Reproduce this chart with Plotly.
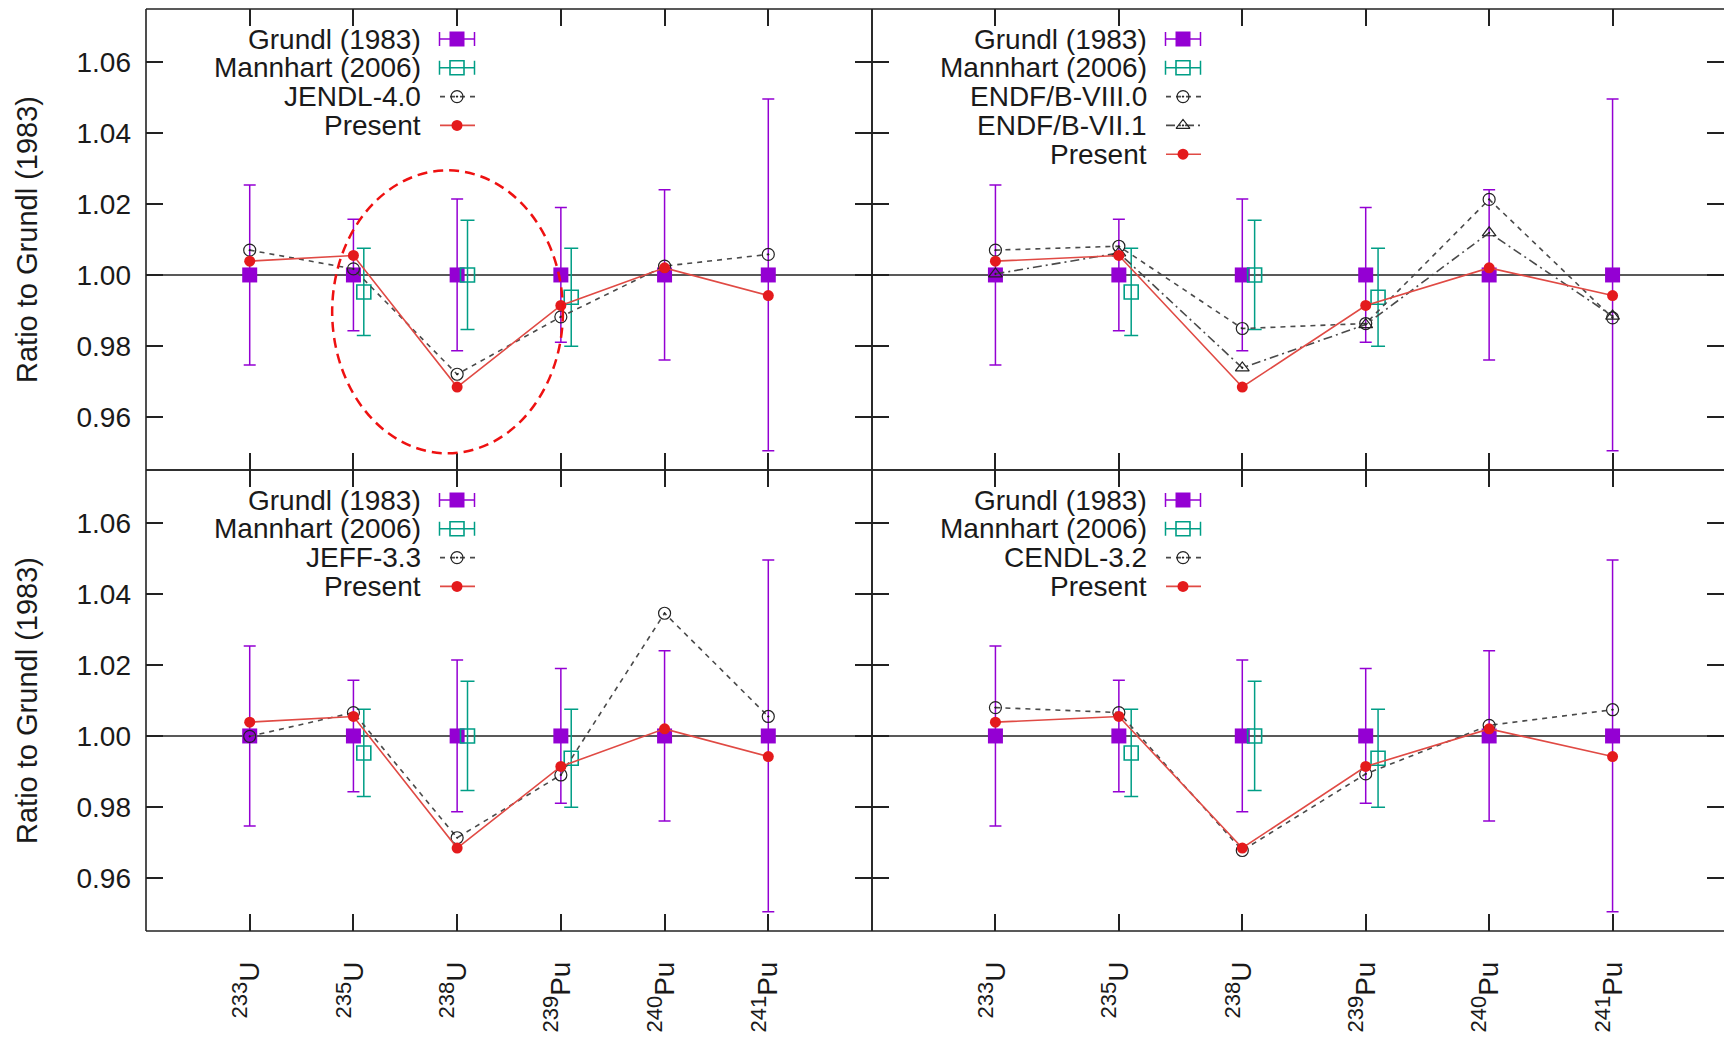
import plotly.graph_objects as go

# ---------------------------------------------------------------------------
# Data: ratios of spectrum-averaged cross sections to Grundl (1983)
# ---------------------------------------------------------------------------
nuclide_pos = [1, 2, 3, 4, 5, 6]
nuclide_mass = ["233", "235", "238", "239", "240", "241"]
nuclide_elem = ["U", "U", "U", "Pu", "Pu", "Pu"]

grundl_ratio = [1.000, 1.000, 1.000, 1.000, 1.000, 1.000]
grundl_err = [0.0254, 0.0157, 0.0214, 0.0190, 0.0240, 0.0496]

mannhart_pos = [2, 3, 4]
mannhart_ratio = [0.9952, 1.0000, 0.9937]
mannhart_err = [0.0123, 0.0154, 0.0138]

present_ratio = [1.0039, 1.0055, 0.9684, 0.9914, 1.0020, 0.9942]

jendl40_ratio = [1.0070, 1.0017, 0.9720, 0.9882, 1.0025, 1.0058]
endf80_ratio = [1.0070, 1.0081, 0.9849, 0.9863, 1.0213, 0.9879]
endf71_ratio = [1.0003, 1.0062, 0.9738, 0.9860, 1.0119, 0.9884]
jeff33_ratio = [0.9999, 1.0066, 0.9713, 0.9890, 1.0346, 1.0055]
cendl32_ratio = [1.0080, 1.0066, 0.9677, 0.9893, 1.0030, 1.0074]

y_tick_vals = [0.96, 0.98, 1.00, 1.02, 1.04, 1.06]
y_tick_text = ["0.96", "0.98", "1.00", "1.02", "1.04", "1.06"]

# ---------------------------------------------------------------------------
# Styling / geometry
# ---------------------------------------------------------------------------
W, H = 1724, 1038
M_L, M_R, M_T, M_B = 146, 0, 9, 107
PLOT_W = W - M_L - M_R
PLOT_H = H - M_T - M_B
LEFT_W = 726                      # width of the left column, px
LEFT_FRAC = LEFT_W / PLOT_W
RIGHT_W = PLOT_W - LEFT_W
RIGHT_XMAX = 7 * RIGHT_W / 864    # right column is clipped at the page edge
PANEL_H = PLOT_H / 2
LINE_W = 1.6
Y_RANGE = [0.945, 1.075]
REF_RATIO = 1.0
MANNHART_SHIFT = 0.1

FONT = "Liberation Sans, Arial, Helvetica, sans-serif"
FS = 28
SUP_FS = 22
TXT = "#1a1a1a"
FRAME = "#222222"
PURPLE = "#9400D3"
TEAL = "#009E86"
RED = "#E41A1C"
RED_LINE = "#E04A44"
EVAL_LINE = "#4a4a4a"
EVAL_MARK = "#222222"

DASH = "5px,5px"
DASHDOT = "9px,4px,2px,4px"

# legend layout (px relative to each panel's top-left corner)
LEG_TEXT_RIGHT = 277
LEG_KEY_X0, LEG_KEY_CX, LEG_KEY_X1 = 294, 311, 329
LEG_ROW0, LEG_ROW_STEP = 30, 28.8

nuclide_labels = [
    f"<sup><span style='font-size:{SUP_FS}px'>{m}</span></sup>{e}"
    for m, e in zip(nuclide_mass, nuclide_elem)
]

panels = [
    dict(x="x", y="y", lx="x5", ly="y5", xdom=[0, LEFT_FRAC], ydom=[0.5, 1],
         xmax=7, pw=LEFT_W, xlabels=False, ylabels=True, right_edge=True,
         evals=[("JENDL-4.0", jendl40_ratio, "circle-open-dot", DASH)]),
    dict(x="x2", y="y2", lx="x6", ly="y6", xdom=[LEFT_FRAC, 1], ydom=[0.5, 1],
         xmax=RIGHT_XMAX, pw=RIGHT_W, xlabels=False, ylabels=False,
         right_edge=False,
         evals=[("ENDF/B-VIII.0", endf80_ratio, "circle-open-dot", DASH),
                ("ENDF/B-VII.1", endf71_ratio, "triangle-up-open-dot", DASHDOT)]),
    dict(x="x3", y="y3", lx="x7", ly="y7", xdom=[0, LEFT_FRAC], ydom=[0, 0.5],
         xmax=7, pw=LEFT_W, xlabels=True, ylabels=True, right_edge=True,
         evals=[("JEFF-3.3", jeff33_ratio, "circle-open-dot", DASH)]),
    dict(x="x4", y="y4", lx="x8", ly="y8", xdom=[LEFT_FRAC, 1], ydom=[0, 0.5],
         xmax=RIGHT_XMAX, pw=RIGHT_W, xlabels=True, ylabels=False,
         right_edge=False,
         evals=[("CENDL-3.2", cendl32_ratio, "circle-open-dot", DASH)]),
]


def lname(ax):
    return "xaxis" + ax[1:] if ax.startswith("x") else "yaxis" + ax[1:]


fig = go.Figure()
layout_axes = {}
annotations = []
shapes = []

for p in panels:
    xa, ya = p["x"], p["y"]

    # ---- data traces -------------------------------------------------------
    fig.add_trace(go.Scatter(
        x=nuclide_pos, y=grundl_ratio, mode="markers", xaxis=xa, yaxis=ya,
        marker=dict(symbol="square", size=15, color=PURPLE),
        error_y=dict(type="data", array=grundl_err, color=PURPLE,
                     thickness=1.5, width=6),
        showlegend=False, hoverinfo="skip"))

    fig.add_trace(go.Scatter(
        x=[v + MANNHART_SHIFT for v in mannhart_pos], y=mannhart_ratio,
        mode="markers", xaxis=xa, yaxis=ya,
        marker=dict(symbol="square-open", size=14, color=TEAL,
                    line=dict(width=1.6, color=TEAL)),
        error_y=dict(type="data", array=mannhart_err, color=TEAL,
                     thickness=1.5, width=7),
        showlegend=False, hoverinfo="skip"))

    for name, vals, sym, dash in p["evals"]:
        fig.add_trace(go.Scatter(
            x=nuclide_pos, y=vals, mode="lines+markers", xaxis=xa, yaxis=ya,
            line=dict(color=EVAL_LINE, width=1.6, dash=dash),
            marker=dict(symbol=sym, size=12, color=EVAL_MARK,
                        line=dict(width=1.2, color=EVAL_MARK)),
            name=name, showlegend=False, hoverinfo="skip"))

    fig.add_trace(go.Scatter(
        x=nuclide_pos, y=present_ratio, mode="lines+markers",
        xaxis=xa, yaxis=ya,
        line=dict(color=RED_LINE, width=1.6),
        marker=dict(symbol="circle", size=11, color=RED),
        showlegend=False, hoverinfo="skip"))

    # reference line at ratio = 1
    shapes.append(dict(type="line", xref=f"{xa} domain", yref=ya,
                       x0=0, x1=1, y0=REF_RATIO, y1=REF_RATIO,
                       line=dict(color=FRAME, width=1.6), layer="below"))

    # panel frame (the right column has no closing edge on the page)
    edges = [(0, 0, 1, 0), (0, 1, 1, 1), (0, 0, 0, 1)]
    if p["right_edge"]:
        edges.append((1, 0, 1, 1))
    for ex0, ey0, ex1, ey1 in edges:
        shapes.append(dict(type="line", xref=f"{xa} domain",
                           yref=f"{ya} domain",
                           x0=ex0, y0=ey0, x1=ex1, y1=ey1,
                           line=dict(color=FRAME, width=LINE_W),
                           layer="above"))

    # ---- axes --------------------------------------------------------------
    layout_axes[lname(xa)] = dict(
        domain=p["xdom"], anchor=ya, range=[0, p["xmax"]],
        tickmode="array", tickvals=nuclide_pos, ticktext=nuclide_labels,
        showticklabels=p["xlabels"], tickangle=-90,
        tickfont=dict(family=FONT, size=FS, color=TXT),
        ticklabelstandoff=24,
        ticks="inside", ticklen=17, tickwidth=1.5, tickcolor=FRAME,
        showline=False, mirror="ticks",
        showgrid=False, zeroline=False, fixedrange=True)

    yax = dict(
        domain=p["ydom"], anchor=xa, range=Y_RANGE,
        tickmode="array", tickvals=y_tick_vals, ticktext=y_tick_text,
        showticklabels=p["ylabels"],
        tickfont=dict(family=FONT, size=FS, color=TXT),
        ticklabelstandoff=14,
        ticks="inside", ticklen=17, tickwidth=1.5, tickcolor=FRAME,
        showline=False, mirror="ticks",
        showgrid=False, zeroline=False, fixedrange=True)
    if p["ylabels"]:
        yax["title"] = dict(text="Ratio to Grundl (1983)", standoff=30,
                            font=dict(family=FONT, size=29, color=TXT))
    layout_axes[lname(ya)] = yax

    # ---- key area (pixel-unit overlay axes) --------------------------------
    lx, ly = p["lx"], p["ly"]
    layout_axes[lname(lx)] = dict(overlaying=xa, anchor=ly,
                                  range=[0, p["pw"]], visible=False,
                                  fixedrange=True)
    layout_axes[lname(ly)] = dict(overlaying=ya, anchor=lx,
                                  range=[PANEL_H, 0], visible=False,
                                  fixedrange=True)

    entries = [("Grundl (1983)", "grundl", None, None),
               ("Mannhart (2006)", "mannhart", None, None)]
    entries += [(n, "eval", s, d) for n, _, s, d in p["evals"]]
    entries += [("Present", "present", None, None)]

    for i, (label, kind, sym, dash) in enumerate(entries):
        ry = LEG_ROW0 + LEG_ROW_STEP * i
        annotations.append(dict(
            text=label, xref=lx, yref=ly, x=LEG_TEXT_RIGHT, y=ry,
            xanchor="right", yanchor="middle", showarrow=False,
            font=dict(family=FONT, size=FS, color=TXT)))
        half = (LEG_KEY_X1 - LEG_KEY_X0) / 2
        if kind == "grundl":
            fig.add_trace(go.Scatter(
                x=[LEG_KEY_CX], y=[ry], mode="markers", xaxis=lx, yaxis=ly,
                marker=dict(symbol="square", size=15, color=PURPLE),
                error_x=dict(type="constant", value=half, color=PURPLE,
                             thickness=1.5, width=7),
                showlegend=False, hoverinfo="skip"))
        elif kind == "mannhart":
            fig.add_trace(go.Scatter(
                x=[LEG_KEY_CX], y=[ry], mode="markers", xaxis=lx, yaxis=ly,
                marker=dict(symbol="square-open", size=14, color=TEAL,
                            line=dict(width=1.6, color=TEAL)),
                error_x=dict(type="constant", value=half, color=TEAL,
                             thickness=1.5, width=7),
                showlegend=False, hoverinfo="skip"))
        else:
            if kind == "eval":
                lc, lw, ld = EVAL_LINE, 1.6, dash
                mk = dict(symbol=sym, size=12, color=EVAL_MARK,
                          line=dict(width=1.2, color=EVAL_MARK))
            else:
                lc, lw, ld = RED_LINE, 1.6, "solid"
                mk = dict(symbol="circle", size=11, color=RED)
            fig.add_trace(go.Scatter(
                x=[LEG_KEY_X0, LEG_KEY_X1], y=[ry, ry], mode="lines",
                xaxis=lx, yaxis=ly, line=dict(color=lc, width=lw, dash=ld),
                showlegend=False, hoverinfo="skip"))
            fig.add_trace(go.Scatter(
                x=[LEG_KEY_CX], y=[ry], mode="markers", xaxis=lx, yaxis=ly,
                marker=mk, showlegend=False, hoverinfo="skip"))

# highlight around the 235U-239Pu region of the JENDL-4.0 panel
shapes.append(dict(type="circle", xref="x", yref="y",
                   x0=1.795, x1=4.02, y0=0.9497, y1=1.0295,
                   line=dict(color="#EE1111", width=2.5, dash="10px,6px"),
                   layer="above"))

fig.update_layout(
    width=W, height=H,
    margin=dict(l=M_L, r=M_R, t=M_T, b=M_B, pad=0),
    paper_bgcolor="white", plot_bgcolor="white",
    font=dict(family=FONT, size=FS, color=TXT),
    showlegend=False,
    annotations=annotations,
    shapes=shapes,
    **layout_axes,
)

fig.write_html("out.html")
